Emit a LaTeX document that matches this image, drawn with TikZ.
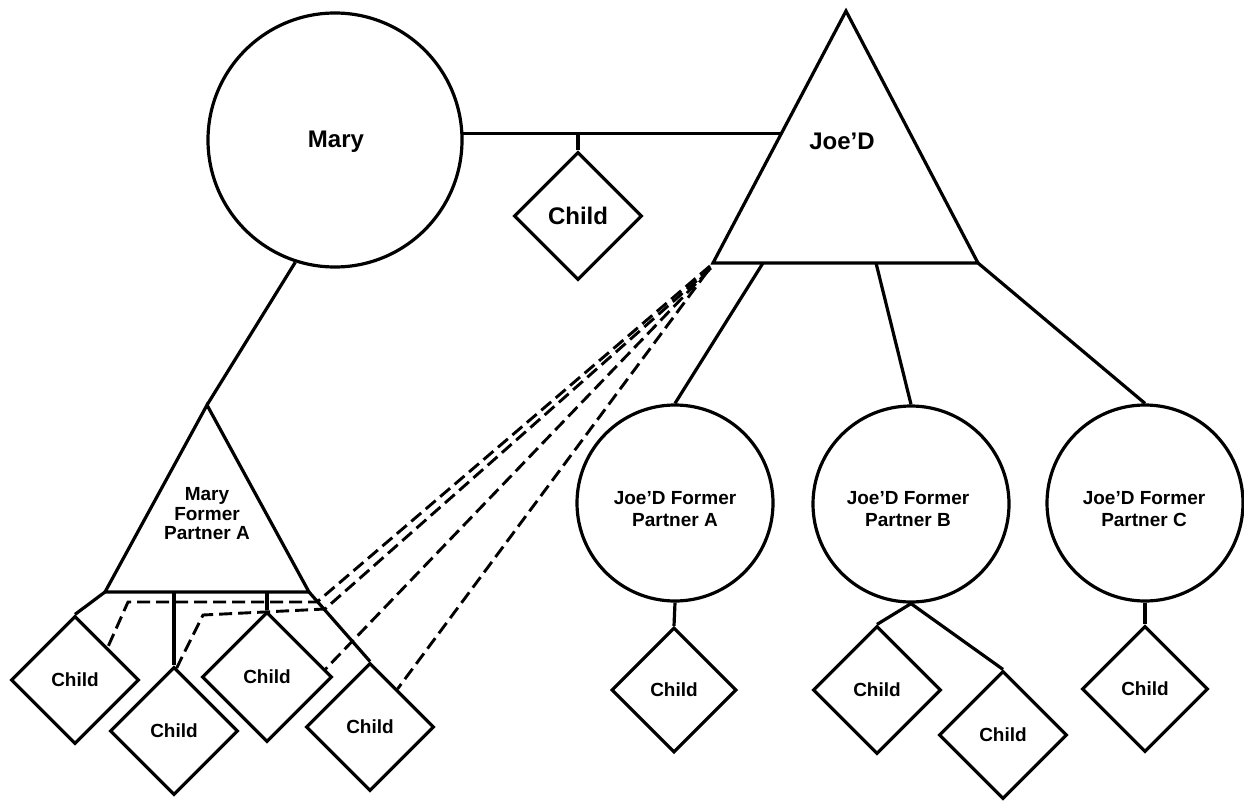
\documentclass[tikz,border=0pt]{standalone}
\usepackage{fontspec}
\setmainfont{Liberation Sans}
\usetikzlibrary{shapes.geometric,calc}
\begin{document}
\begin{tikzpicture}[x=1pt,y=-1pt,
  link/.style={line width=3.2pt},
  dlink/.style={line width=2.9pt,dash pattern=on 13pt off 6pt},
  person/.style={circle,draw,line width=3.2pt,inner sep=0pt},
  kid/.style={diamond,draw,aspect=1,line width=3.2pt,inner sep=0pt,minimum size=128pt,
    font=\bfseries\fontsize{19}{22}\selectfont},
  bigtxt/.style={font=\bfseries\fontsize{24}{28}\selectfont,inner sep=0pt},
  smalltxt/.style={font=\bfseries\fontsize{19}{22}\selectfont,align=center,inner sep=0pt}]
\useasboundingbox (0,0) rectangle (1244,800);
\fill[white] (0,0) rectangle (1244,800);

% Mary
\node[person,minimum size=254pt] (Mary) at (335,140) {};
\node[bigtxt] (MaryT) at (336,142) {Mary};

% Joe'D triangle
\coordinate (JT) at (846,11);
\coordinate (JL) at (713,263);
\coordinate (JR) at (978,263);
\draw[link,line join=miter] (JT) -- (JL) -- (JR) -- cycle;
\node[bigtxt] (Joe) at (842,141) {Joe’D};
\coordinate (JLedge) at (781,134);
\coordinate (JbA) at (763,263);
\coordinate (JbB) at (876,263);

% Marriage line and child
\node[kid,font=\bfseries\fontsize{24}{28}\selectfont] (D0) at (578,216) {Child};
\draw[link] (Mary.3) -- (Mary.3 -| JLedge);
\draw[link] (D0.north) -- (D0.north |- Mary.3);

% Mary former partner A triangle
\coordinate (MT) at (207,405);
\coordinate (ML) at (105,592);
\coordinate (MR) at (309,592);
\draw[link,line join=miter] (MT) -- (ML) -- (MR) -- cycle;
\node[smalltxt,font=\bfseries\fontsize{19}{19.5}\selectfont] (MaryA) at (207,514) {Mary\\Former\\Partner A};
\draw[link] (Mary.-108) -- (MT);

% Joe'D former partners
\node[person,minimum size=196pt] (JA) at (675,503) {};
\node[person,minimum size=196pt] (JB) at (911,504) {};
\node[person,minimum size=196pt] (JC) at (1145,503) {};
\node[smalltxt] (JAt) at (675,509) {Joe’D Former\\Partner A};
\node[smalltxt] (JBt) at (908,509) {Joe’D Former\\Partner B};
\node[smalltxt] (JCt) at (1144,509) {Joe’D Former\\Partner C};
\draw[link] (JbA) -- (JA.north);
\draw[link] (JbB) -- (JB.north);
\draw[link] (JR) -- (JC.north);

% Children of Joe'D former partners
\node[kid,minimum size=125pt] (JAc) at (674,690) {Child};
\node[kid] (JB1) at (877,690) {Child};
\node[kid] (JB2) at (1003,735) {Child};
\node[kid,minimum size=126pt] (JCc) at (1145,689) {Child};
\draw[link] (JA.south) -- (JAc.north);
\draw[link] (JB.south) -- (JB1.north);
\draw[link] (JB.south) -- (JB2.north);
\draw[link] (JC.south) -- (JCc.north);

% Children of Mary former partner A
\node[kid] (M1) at (75,680) {Child};
\node[kid] (M2) at (174,731) {Child};
\node[kid,minimum size=130pt] (M3) at (267,677) {Child};
\node[kid] (M4) at (370,727) {Child};
\draw[link] (ML) -- (M1.north);
\draw[link] (M2.north |- ML) -- (M2.north);
\draw[link] (M3.north |- ML) -- (M3.north);
\draw[link] (MR) -- (M4.north);

% Dashed links to Joe'D
\coordinate (JD1) at (710,266);
\coordinate (JD2) at (711,268);
\coordinate (JD3) at (709,270);
\coordinate (JD4) at (707,272);
\draw[dlink] (JD1) -- (317,602) -- (128,602) -- ($(M1.north)!0.5!(M1.east)$);
\draw[dlink] (JD2) -- (325,609) -- (203,615) -- ($(M2.north)!0.04!(M2.east)$);
\draw[dlink] (JD3) -- ($(M3.north)!0.88!(M3.east)$);
\draw[dlink] (JD4) -- ($(M4.north)!0.42!(M4.east)$);
\end{tikzpicture}
\end{document}
